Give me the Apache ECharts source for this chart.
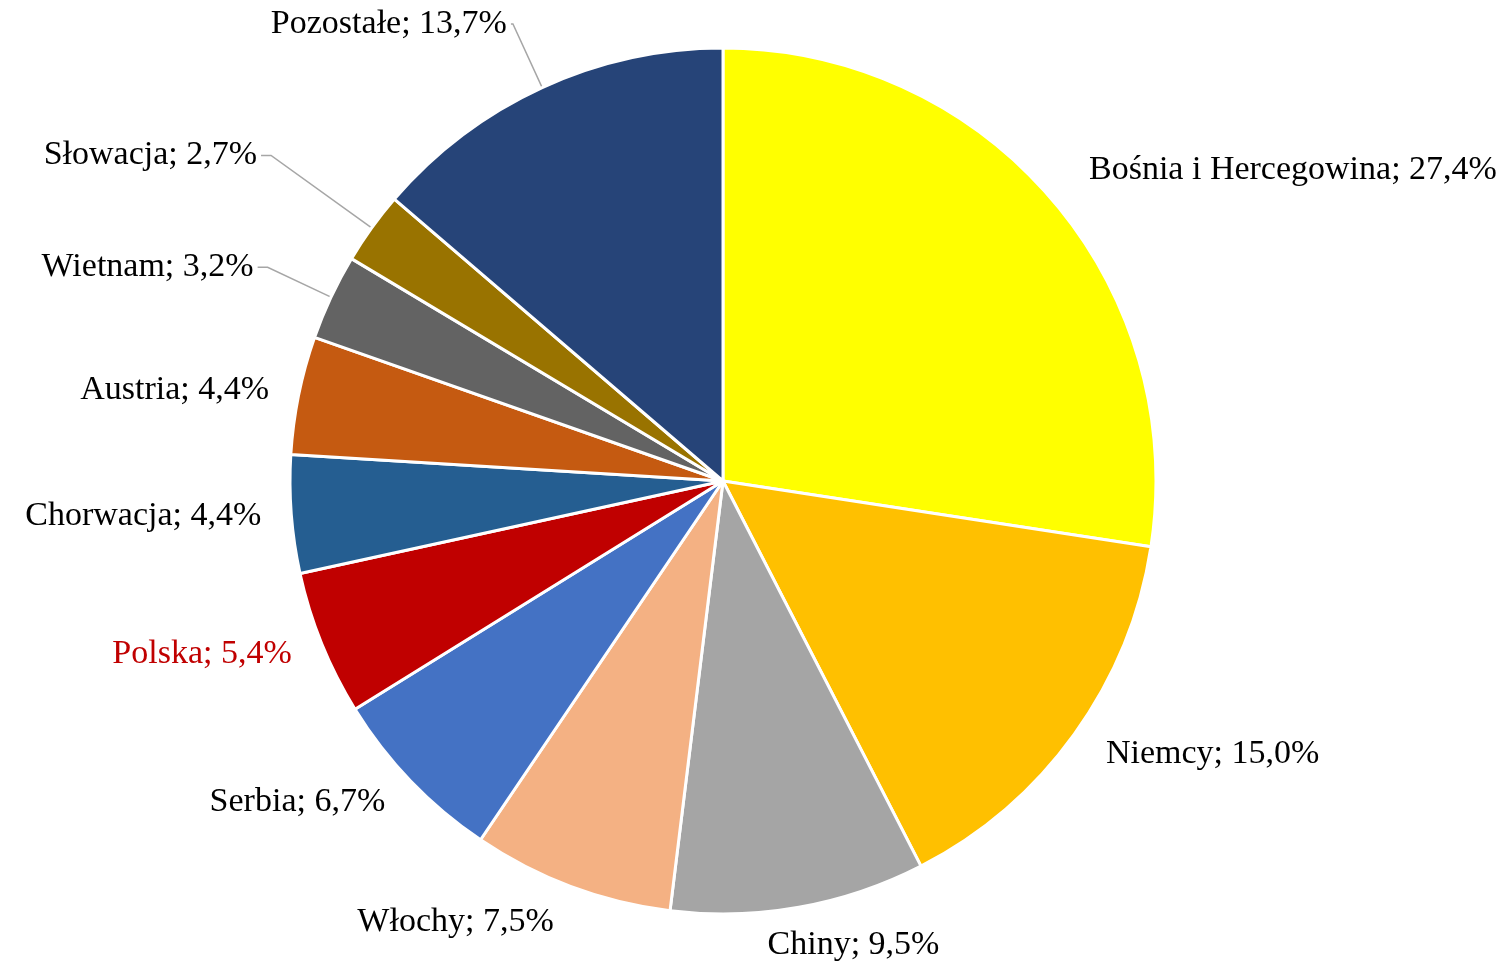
<!DOCTYPE html>
<html><head><meta charset="utf-8">
<script src="https://cdn.jsdelivr.net/npm/echarts@6/dist/echarts.min.js"></script>
<style>html,body{margin:0;padding:0;background:#fff}#c{width:1511px;height:963px}</style>
</head><body><div id="c"></div>
<script>
const categories = ['Bośnia i Hercegowina','Niemcy','Chiny','Włochy','Serbia','Polska','Chorwacja','Austria','Wietnam','Słowacja','Pozostałe'];
const values = [27.4, 15.0, 9.5, 7.5, 6.7, 5.4, 4.4, 4.4, 3.2, 2.7, 13.7];
const colors = ['#FFFF00','#FFC000','#A5A5A5','#F4B183','#4472C4','#C00000','#255E91','#C55A11','#636363','#997300','#264478'];
// leader-line config per label (styling only)
const lineCfg = {
  'Bośnia i Hercegowina':{show:false,length:44}, 'Niemcy':{show:false,length:34},
  'Serbia':{show:false,length:30}, 'Polska':{show:false,length:28}, 'Chorwacja':{show:false,length:26}, 'Austria':{show:false,length:26},
  'Wietnam':{show:true,length:70,length2:10}, 'Słowacja':{show:true,length:124,length2:10}, 'Pozostałe':{show:true,length:70,length2:2}
};
const labelShift = {'Chiny':{dx:-42}};

const chart = echarts.init(document.getElementById('c'), null, {renderer:'canvas'});
const data = categories.map((n,i)=>{
  const d = {name:n, value:values[i], itemStyle:{color:colors[i]}};
  if (lineCfg[n]) d.labelLine = lineCfg[n];
  if (n === 'Polska') d.label = {color:'#C00000'};
  return d;
});
chart.setOption({
  animation:false,
  backgroundColor:'#fff',
  series:[{
    type:'pie',
    center:[723,481],
    radius:433,
    startAngle:90,
    clockwise:true,
    avoidLabelOverlap:false,
    data:data,
    itemStyle:{borderColor:'#fff', borderWidth:3},
    label:{
      show:true, position:'outside', alignTo:'none', distanceToLabelLine:4,
      fontFamily:'Liberation Serif', fontSize:34, color:'#000',
      formatter:p=>p.name+'; '+p.value.toFixed(1).replace('.',',')+'%'
    },
    labelLine:{show:false, length:38, length2:0, smooth:false, lineStyle:{color:'#A6A6A6', width:1.5}},
    labelLayout:function(p){
      const s = labelShift[categories[p.dataIndex]];
      return s ? {dx:s.dx||0, dy:s.dy||0} : {};
    }
  }]
});
</script></body></html>
